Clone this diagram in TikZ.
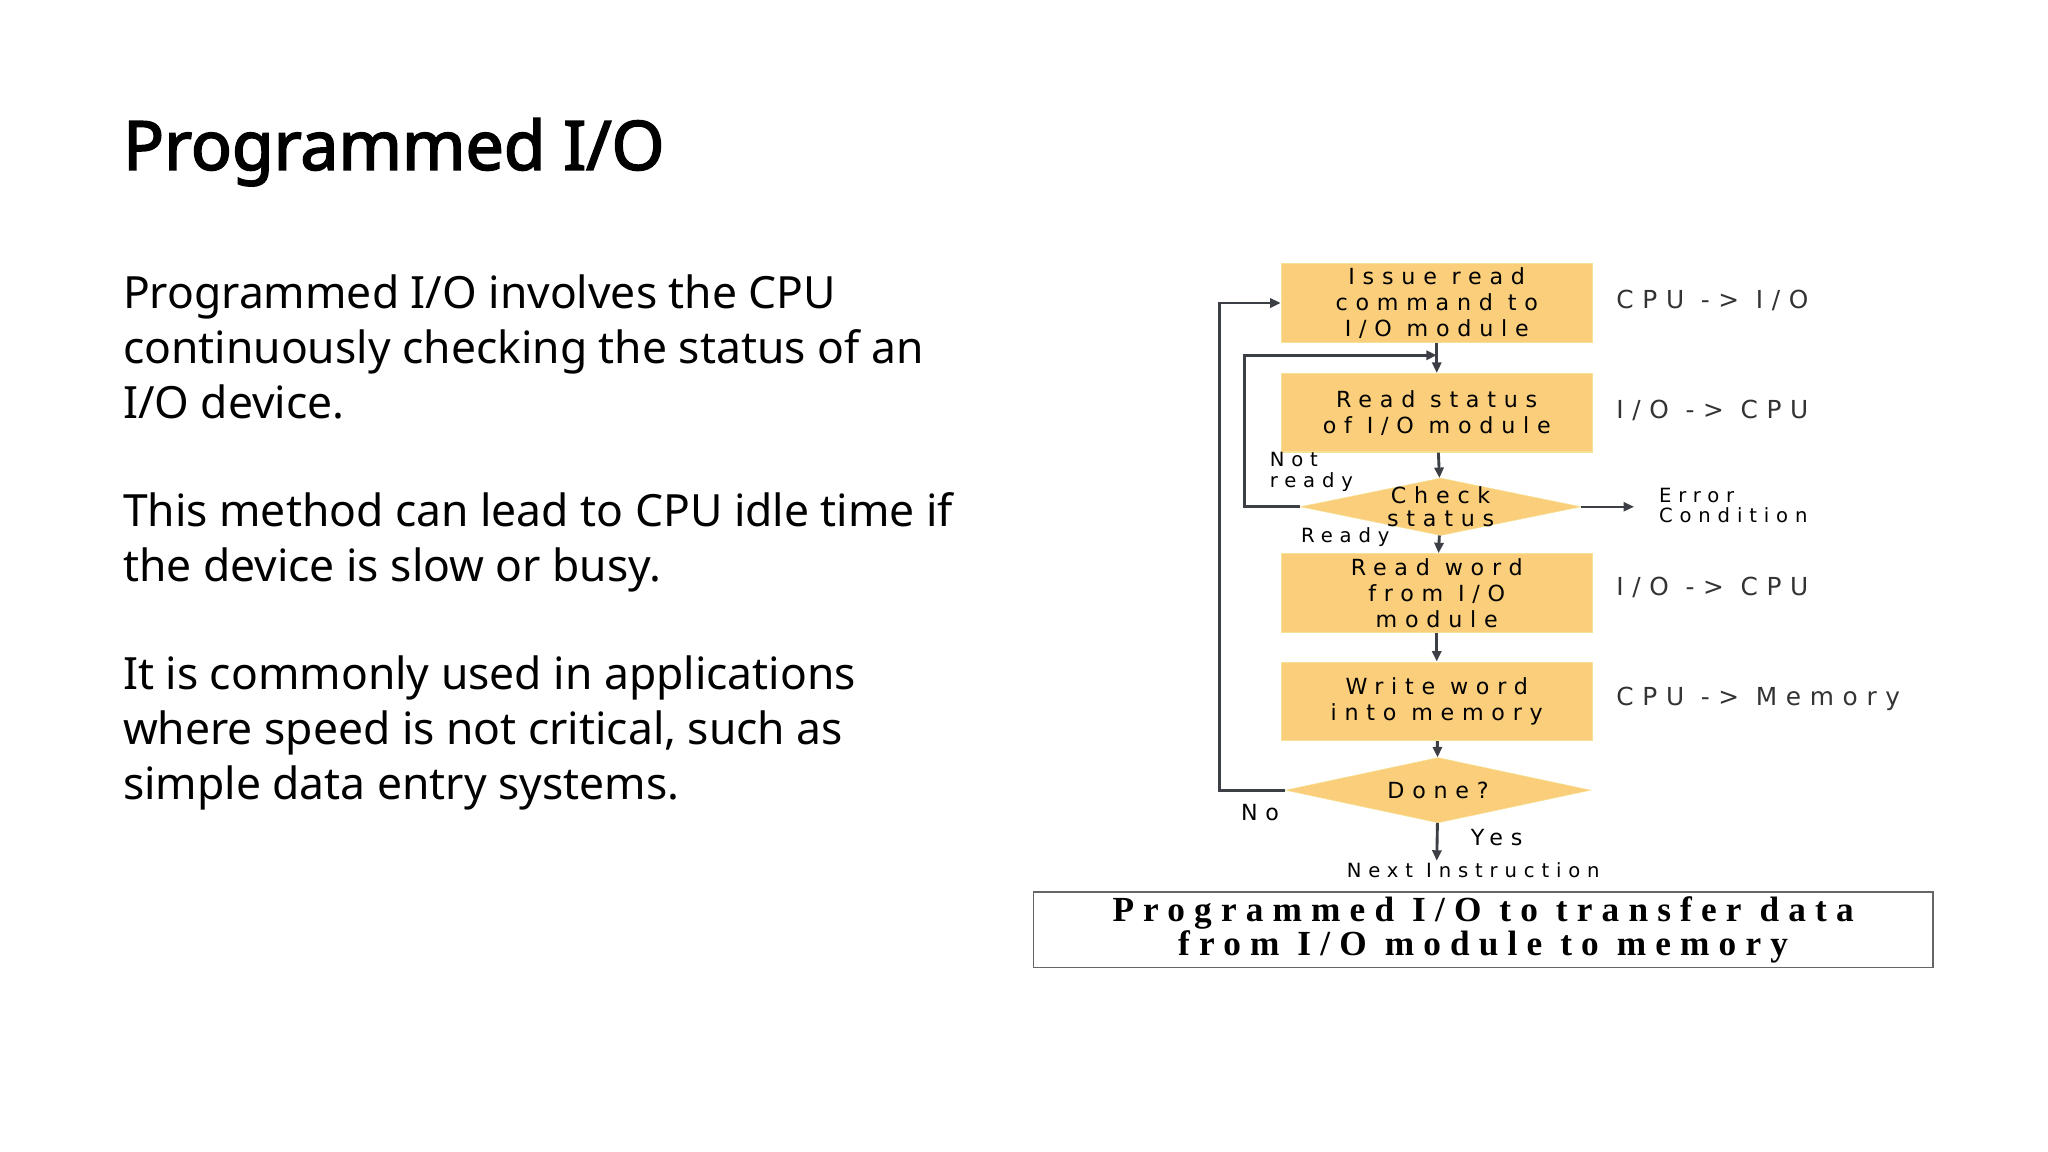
\documentclass[tikz,border=0pt]{standalone}
\usepackage{fontspec}
\setmainfont{Noto Sans}
\newfontfamily\titlefont{Noto Sans}[AutoFakeBold=2.5]
\newfontfamily\chartfont{DejaVu Sans}[LetterSpace=35]
\newfontfamily\capfont{Liberation Serif}[LetterSpace=26]
\usetikzlibrary{positioning,shapes.geometric,arrows.meta}
\definecolor{boxfill}{RGB}{250,206,122}
\definecolor{boxline}{RGB}{246,226,150}
\definecolor{lineclr}{RGB}{60,64,70}

\begin{document}
\begin{tikzpicture}[x=1pt,y=-1pt,
  stepbox/.style={rectangle,fill=boxfill,draw=boxline,line width=1pt,minimum width=238pt,align=center,font=\chartfont\fontsize{17}{20}\selectfont,inner sep=0pt},
  test/.style={diamond,fill=boxfill,draw=boxline,inner sep=0pt},
  testtxt/.style={align=center,font=\chartfont\fontsize{17}{18}\selectfont,inner sep=0pt},
  side/.style={anchor=west,font=\chartfont\fontsize{19}{20}\selectfont,text=black!80},
  small/.style={font=\chartfont\fontsize{15}{16}\selectfont,align=left,inner sep=0pt},
  flow/.style={draw=lineclr,line width=2.2pt,-{Triangle[length=8pt,width=7pt]}},
  body/.style={anchor=north west,align=left,font=\fontsize{34}{42}\selectfont,inner sep=0pt}]
\useasboundingbox (0,0) rectangle (1568,882);

% Title and text
\node[anchor=base west,inner sep=0pt,font=\titlefont\bfseries\fontsize{52}{60}\selectfont] (title) at (94,130) {Programmed I/O};
\node[body] (para1) at (94,210) {Programmed I/O involves the CPU\\continuously checking the status of an\\I/O device.};
\node[body] (para2) at (94,377) {This method can lead to CPU idle time if\\the device is slow or busy.};
\node[body] (para3) at (94,502) {It is commonly used in applications\\where speed is not critical, such as\\simple data entry systems.};

% Flowchart
\node[stepbox,minimum height=60pt] (issue) at (1100,232) {Issue read\\command to\\I/O module};
\node[stepbox,minimum height=60pt] (status) at (1100,316) {Read status\\of I/O module};
\node[test,minimum width=215pt,minimum height=44pt] (check) at (1103,388) {};
\node[testtxt] (checktxt) at (check.center) {Check\\status};
\node[stepbox,minimum height=60pt] (word) at (1100,454) {Read word\\from I/O\\module};
\node[stepbox,minimum height=60pt] (write) at (1100,537) {Write word\\into memory};
\node[test,minimum width=234pt,minimum height=50pt] (done) at (1101,605) {};
\node[testtxt] (donetxt) at (done.center) {Done?};
\coordinate (next) at (1100,659);
\coordinate (err) at (1251,388);
\coordinate (merge) at (1100,272);

\node[side] (l1) at (1234,230) {CPU -> I/O};
\node[side] (l2) at (1234,314) {I/O -> CPU};
\node[side] (l3) at (1234,450) {I/O -> CPU};
\node[side] (l4) at (1234,535) {CPU -> Memory};
\node[small,anchor=west] (errl) at (1270,387) {Error\\Condition};
\node[small,anchor=west] (notr) at (972,361) {Not\\ready};
\node[small,anchor=west] (ready) at (996,411) {Ready};
\node[small,anchor=west,font=\chartfont\fontsize{17}{18}\selectfont] (no) at (950,622) {No};
\node[small,anchor=west,font=\chartfont\fontsize{17}{18}\selectfont] (yes) at (1126,641) {Yes};
\node[small,anchor=west] (nexttxt) at (1031,666) {Next Instruction};

\draw[flow] (issue) -- (status);
\draw[flow] (status) -- (check);
\draw[flow] (check) -- (word);
\draw[flow] (word) -- (write);
\draw[flow] (write) -- (done);
\draw[flow] (done) -- (next);
\draw[flow,line width=1.6pt] (check.east) -- (err);
\draw[flow] (check.west) -- (953,388) |- (merge);
\draw[flow] (done.west) -- (934,605) |- (issue.west);

% Caption
\node[draw=black!60,line width=1pt,minimum width=689pt,minimum height=58pt,align=center,
  font=\capfont\bfseries\fontsize{27}{24}\selectfont,inner sep=0pt] (caption) at (1135.5,712)
  {Programmed I/O to transfer data\\from I/O module to memory};
\end{tikzpicture}
\end{document}
